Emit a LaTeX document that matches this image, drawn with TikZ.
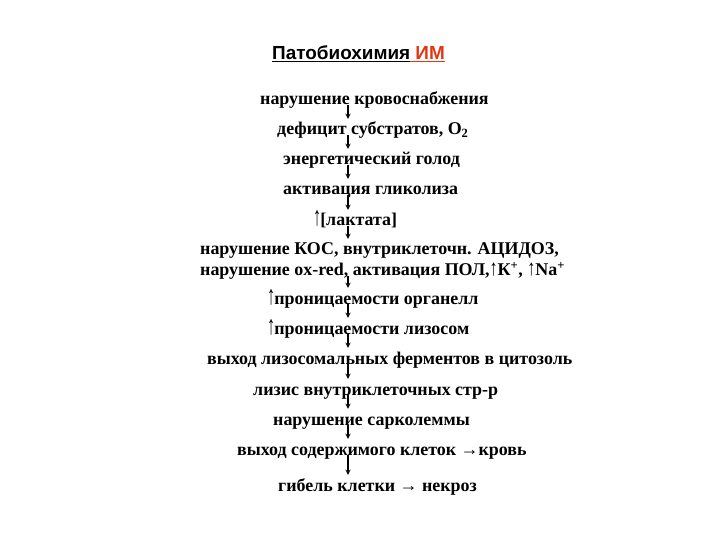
\documentclass[tikz,border=0pt]{standalone}
\usepackage{fontspec}
\setmainfont{Liberation Serif}
\newfontfamily\titlefont{Liberation Sans}
\usepackage{xcolor}
\definecolor{imred}{RGB}{225,55,20}
\tikzset{>=stealth,
  stage/.style={anchor=base west, inner sep=0pt, text height=16bp, text depth=4bp,
    font=\bfseries\fontsize{18}{21}\selectfont},
  flow/.style={->, line width=1.3bp}}
\newcommand{\up}[1][1.5]{\scalebox{0.9}[#1]{\mdseries ↑}}

\begin{document}
\begin{tikzpicture}[x=1bp,y=-1bp]
\useasboundingbox (0,0) rectangle (720,540);
\node[anchor=base west, inner sep=0pt, font=\titlefont\bfseries\fontsize{19}{22}\selectfont] (title) at (272,60)
  {\underline{Патобиохимия}\textcolor{imred}{\underline{\ ИМ}}};
\coordinate (ax) at (348,0);
\node[stage] (s1) at (260,105) {нарушение кровоснабжения};
\node[stage] (s2) at (277,135) {дефицит субстратов, O\textsubscript{2}};
\node[stage] (s3) at (283,165) {энергетический голод};
\node[stage] (s4) at (283,195) {активация гликолиза};
\node[stage] (s5) at (313,226) {\up\kern-1bp[лактата]};
\node[stage] (s6) at (200,255) {нарушение КОС, внутриклеточн. АЦИДОЗ,};
\node[stage] (s7) at (200,276) {нарушение ox-red, активация ПОЛ,\up[1.25]К\textsuperscript{+}, \up[1.25]Na\textsuperscript{+}};
\node[stage] (s8) at (267,304) {\up\kern-1bp проницаемости органелл};
\node[stage] (s9) at (267,334) {\up\kern-1bp проницаемости лизосом};
\node[stage] (s10) at (207,364) {выход лизосомальных ферментов в цитозоль};
\node[stage] (s11) at (253,395) {лизис внутриклеточных стр-р};
\node[stage] (s12) at (273,425) {нарушение сарколеммы};
\node[stage] (s13) at (237,455) {выход содержимого клеток →кровь};
\node[stage] (s14) at (278,491) {гибель клетки → некроз};
\foreach \a/\b in {s1/s2, s2/s3, s3/s4, s4/s5, s5/s6, s7/s8, s8/s9, s9/s10, s10/s11, s11/s12, s12/s13, s13/s14}
  \draw[flow] (\a.base -| ax) -- (\b.north -| ax);
\end{tikzpicture}
\end{document}
